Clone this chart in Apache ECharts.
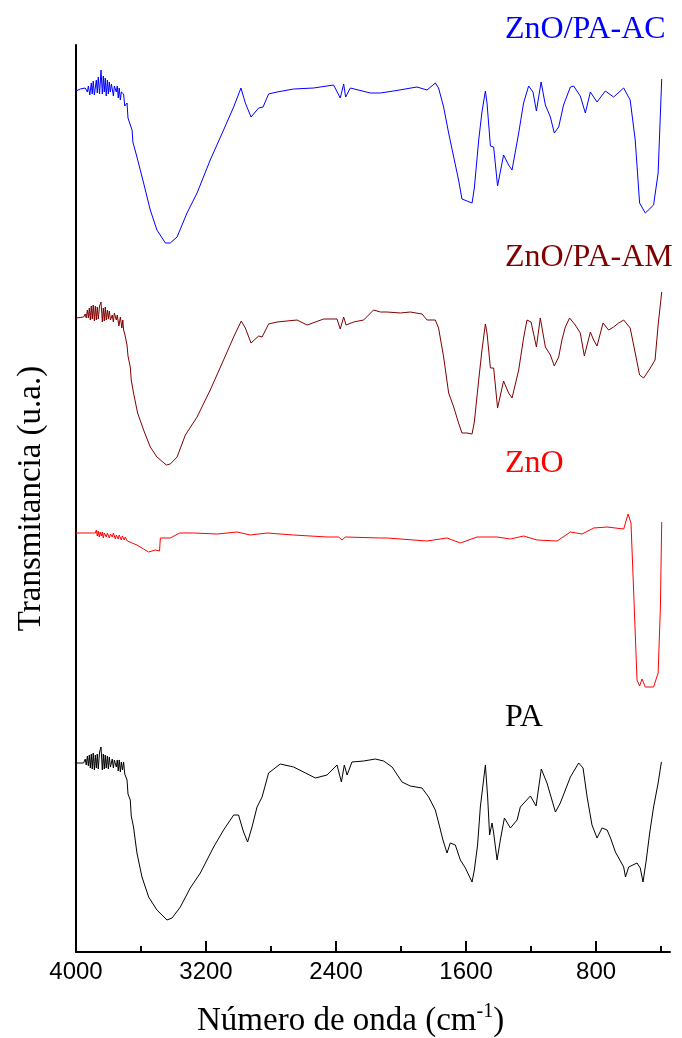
<!DOCTYPE html>
<html>
<head>
<meta charset="utf-8">
<script src="https://cdn.jsdelivr.net/npm/echarts@6/dist/echarts.min.js"></script>
<style>html,body{margin:0;padding:0;background:#fff;}#c{width:682px;height:1038px;}</style>
</head>
<body>
<div id="c"></div>
<script>
// Wavenumber (cm-1), transmittance (arbitrary units, stacked offsets as in the figure)
var seriesNames = ['ZnO/PA-AC', 'ZnO/PA-AM', 'ZnO', 'PA'];
var majorTicks = [4000, 3200, 2400, 1600, 800];
var minorTicks = [3600, 2800, 2000, 1200, 400];

var znoPaAc = [[4000,861],[3974,863],[3943,864],[3930,860],[3924,866],[3915,857],[3906,869],[3900,858],[3894,871],[3887,857],[3875,872],[3869,859],[3863,875],[3855,858],[3846,882],[3838,858],[3832,876],[3826,860],[3820,874],[3814,856],[3807,872],[3801,858],[3795,870],[3789,860],[3782,868],[3770,856],[3764,866],[3752,860],[3746,866],[3740,854],[3734,864],[3727,852],[3721,860],[3707,858],[3700,846],[3686,849],[3680,834],[3672,830],[3655,822],[3650,810],[3625,795],[3584,769],[3543,742],[3502,722],[3450,709],[3420,709],[3378,715],[3317,739],[3255,759],[3174,792],[3092,822],[3030,845],[2985,864],[2958,849],[2923,835],[2876,844],[2849,845],[2815,858],[2763,860],[2661,863],[2538,864],[2415,867],[2374,854],[2353,868],[2341,855],[2312,864],[2189,859],[2127,859],[2046,861],[1902,865],[1840,862],[1789,869],[1769,864],[1738,845],[1707,819],[1676,795],[1646,772],[1625,753],[1594,751],[1563,749],[1549,764],[1522,812],[1502,840],[1481,861],[1471,849],[1450,806],[1430,805],[1406,766],[1369,797],[1338,787],[1317,782],[1276,819],[1246,849],[1215,866],[1188,860],[1167,841],[1138,870],[1112,847],[1081,835],[1057,819],[1030,825],[1000,847],[958,865],[938,866],[897,856],[866,839],[835,860],[794,850],[743,861],[692,855],[630,864],[590,852],[559,812],[532,749],[497,739],[446,747],[418,779],[396,873]];

var znoPaAm = [[4000,634],[3953,635],[3943,638],[3937,634],[3930,642],[3924,634],[3918,644],[3912,632],[3906,646],[3900,633],[3894,647],[3887,631],[3881,646],[3875,632],[3869,645],[3863,633],[3855,646],[3846,650],[3838,630],[3832,644],[3826,631],[3820,645],[3814,632],[3807,642],[3801,633],[3795,641],[3788,632],[3777,637],[3770,630],[3764,639],[3752,632],[3746,637],[3736,626],[3727,635],[3718,624],[3712,632],[3707,622],[3700,618],[3686,607],[3680,596],[3666,585],[3660,572],[3646,559],[3621,539],[3584,522],[3543,505],[3502,495],[3444,487],[3420,488],[3378,495],[3327,517],[3255,535],[3174,562],[3092,592],[3030,615],[2983,631],[2958,624],[2923,609],[2876,616],[2855,615],[2815,628],[2763,630],[2640,632],[2578,627],[2476,633],[2394,633],[2374,623],[2353,635],[2338,627],[2292,630],[2230,632],[2169,642],[2127,640],[2086,640],[2004,639],[1943,640],[1871,638],[1840,632],[1789,632],[1769,624],[1738,595],[1707,559],[1676,545],[1646,529],[1625,519],[1594,519],[1563,518],[1549,530],[1522,572],[1502,602],[1481,628],[1471,619],[1450,584],[1430,584],[1406,544],[1369,571],[1338,559],[1317,554],[1276,582],[1246,614],[1225,632],[1200,630],[1167,605],[1143,634],[1112,605],[1081,597],[1057,586],[1030,595],[1010,612],[989,625],[963,634],[928,627],[897,619],[872,596],[835,620],[815,612],[794,606],[757,629],[723,622],[692,625],[661,629],[630,632],[590,624],[559,599],[532,577],[507,574],[466,584],[437,592],[418,627],[396,660]];

var zno = [[4000,419],[3881,419],[3875,422],[3869,416],[3863,421],[3857,415],[3851,420],[3844,416],[3838,420],[3832,414],[3826,419],[3814,415],[3807,419],[3795,414],[3788,418],[3777,415],[3770,419],[3758,413],[3752,417],[3740,413],[3734,417],[3721,412],[3715,416],[3703,412],[3697,415],[3684,411],[3672,412],[3655,409],[3625,407],[3584,403],[3553,400],[3512,402],[3486,401],[3481,414],[3420,414],[3362,419],[3276,419],[3266,420],[3132,418],[3009,420],[2927,417],[2825,419],[2661,417],[2455,415],[2384,415],[2363,412],[2343,415],[2127,414],[2086,414],[1840,411],[1717,414],[1635,409],[1532,415],[1409,415],[1327,413],[1246,416],[1163,412],[1040,411],[958,420],[886,418],[815,424],[732,425],[630,423],[603,438],[585,429],[569,362],[548,272],[532,266],[517,273],[497,265],[446,265],[418,279],[404,345],[396,430]];

var pa = [[4000,189],[3953,189],[3943,193],[3937,187],[3930,196],[3924,186],[3918,197],[3912,184],[3906,198],[3900,183],[3894,199],[3887,182],[3881,197],[3875,184],[3869,198],[3863,183],[3855,200],[3846,205],[3838,182],[3832,198],[3826,183],[3820,197],[3814,184],[3807,196],[3801,183],[3795,195],[3788,185],[3777,193],[3770,184],[3764,192],[3752,185],[3746,192],[3740,181],[3734,192],[3727,180],[3721,190],[3714,182],[3707,190],[3700,178],[3686,172],[3680,158],[3666,152],[3660,136],[3646,125],[3625,99],[3594,75],[3553,55],[3502,42],[3440,32],[3409,34],[3358,45],[3297,64],[3235,79],[3153,105],[3092,122],[3030,137],[3000,137],[2969,120],[2944,110],[2917,125],[2886,145],[2855,155],[2815,179],[2743,188],[2661,185],[2527,174],[2455,177],[2394,187],[2367,170],[2349,187],[2332,177],[2302,190],[2230,191],[2158,193],[2107,191],[2055,185],[1994,170],[1943,166],[1871,164],[1830,155],[1789,142],[1762,125],[1742,112],[1717,99],[1697,109],[1666,107],[1635,92],[1604,84],[1563,70],[1549,82],[1529,107],[1512,145],[1481,187],[1467,155],[1455,117],[1440,129],[1430,119],[1409,92],[1389,112],[1364,134],[1327,124],[1286,132],[1266,145],[1204,156],[1169,146],[1137,183],[1102,169],[1050,140],[1020,149],[958,175],[907,189],[880,184],[855,155],[825,127],[794,114],[763,124],[732,122],[711,114],[681,100],[630,85],[619,75],[599,85],[548,89],[528,84],[511,70],[491,92],[470,119],[446,145],[418,169],[398,190]];

var seriesData = [znoPaAc, znoPaAm, zno, pa];
var seriesColors = ['#0000ff', '#800000', '#ff0000', '#000000'];

var chart = echarts.init(document.getElementById('c'), null, {renderer: 'canvas'});
var serif = '"Liberation Serif", "Times New Roman", serif';
var sans = '"Liberation Sans", Arial, sans-serif';

var labelY = [30, 258, 464, 718];

chart.setOption({
  animation: false,
  backgroundColor: '#ffffff',
  grid: {left: 76, right: 12, top: 45, bottom: 86, containLabel: false},
  xAxis: [{
    type: 'value', inverse: true, min: 345, max: 4000,
    axisLine: {show: true, onZero: false, lineStyle: {color: '#000', width: 2}},
    axisTick: {show: true, inside: true, length: 11, lineStyle: {color: '#000', width: 2}, customValues: majorTicks},
    axisLabel: {show: true, margin: 8, color: '#000', fontSize: 24, fontFamily: sans, customValues: majorTicks,
      formatter: function (v) { return String(v); }},
    splitLine: {show: false}
  }, {
    type: 'value', inverse: true, min: 345, max: 4000, position: 'bottom',
    axisLine: {show: false},
    axisTick: {show: true, inside: true, length: 6, lineStyle: {color: '#000', width: 2}, customValues: minorTicks},
    axisLabel: {show: false},
    splitLine: {show: false}
  }],
  yAxis: {
    type: 'value', min: 0, max: 907,
    name: 'Transmitancia (u.a.)', nameLocation: 'middle', nameGap: 28,
    nameTextStyle: {fontFamily: serif, fontSize: 33, color: '#000'},
    axisLine: {show: true, onZero: false, lineStyle: {color: '#000', width: 2}},
    axisTick: {show: false}, axisLabel: {show: false}, splitLine: {show: false}
  },
  graphic: [{
    type: 'text', left: 197, top: 1002,
    style: {
      text: '{a|Número de onda (cm}{s|-1}{a|)}',
      rich: {
        a: {fontFamily: serif, fontSize: 33, fill: '#000', verticalAlign: 'bottom', lineHeight: 36},
        s: {fontFamily: serif, fontSize: 20, fill: '#000', verticalAlign: 'top', lineHeight: 36}
      }
    }
  }].concat(seriesNames.map(function (n, i) {
    return {type: 'text', x: 505, y: labelY[i],
      style: {text: n, fontFamily: serif, fontSize: 32, fill: seriesColors[i], verticalAlign: 'middle', align: 'left'}};
  })),
  series: seriesData.map(function (d, i) {
    return {
      type: 'line', name: seriesNames[i], data: d, xAxisIndex: 0,
      showSymbol: false, symbol: 'none', smooth: false,
      lineStyle: {color: seriesColors[i], width: 1}, silent: true
    };
  })
});
</script>
</body>
</html>
